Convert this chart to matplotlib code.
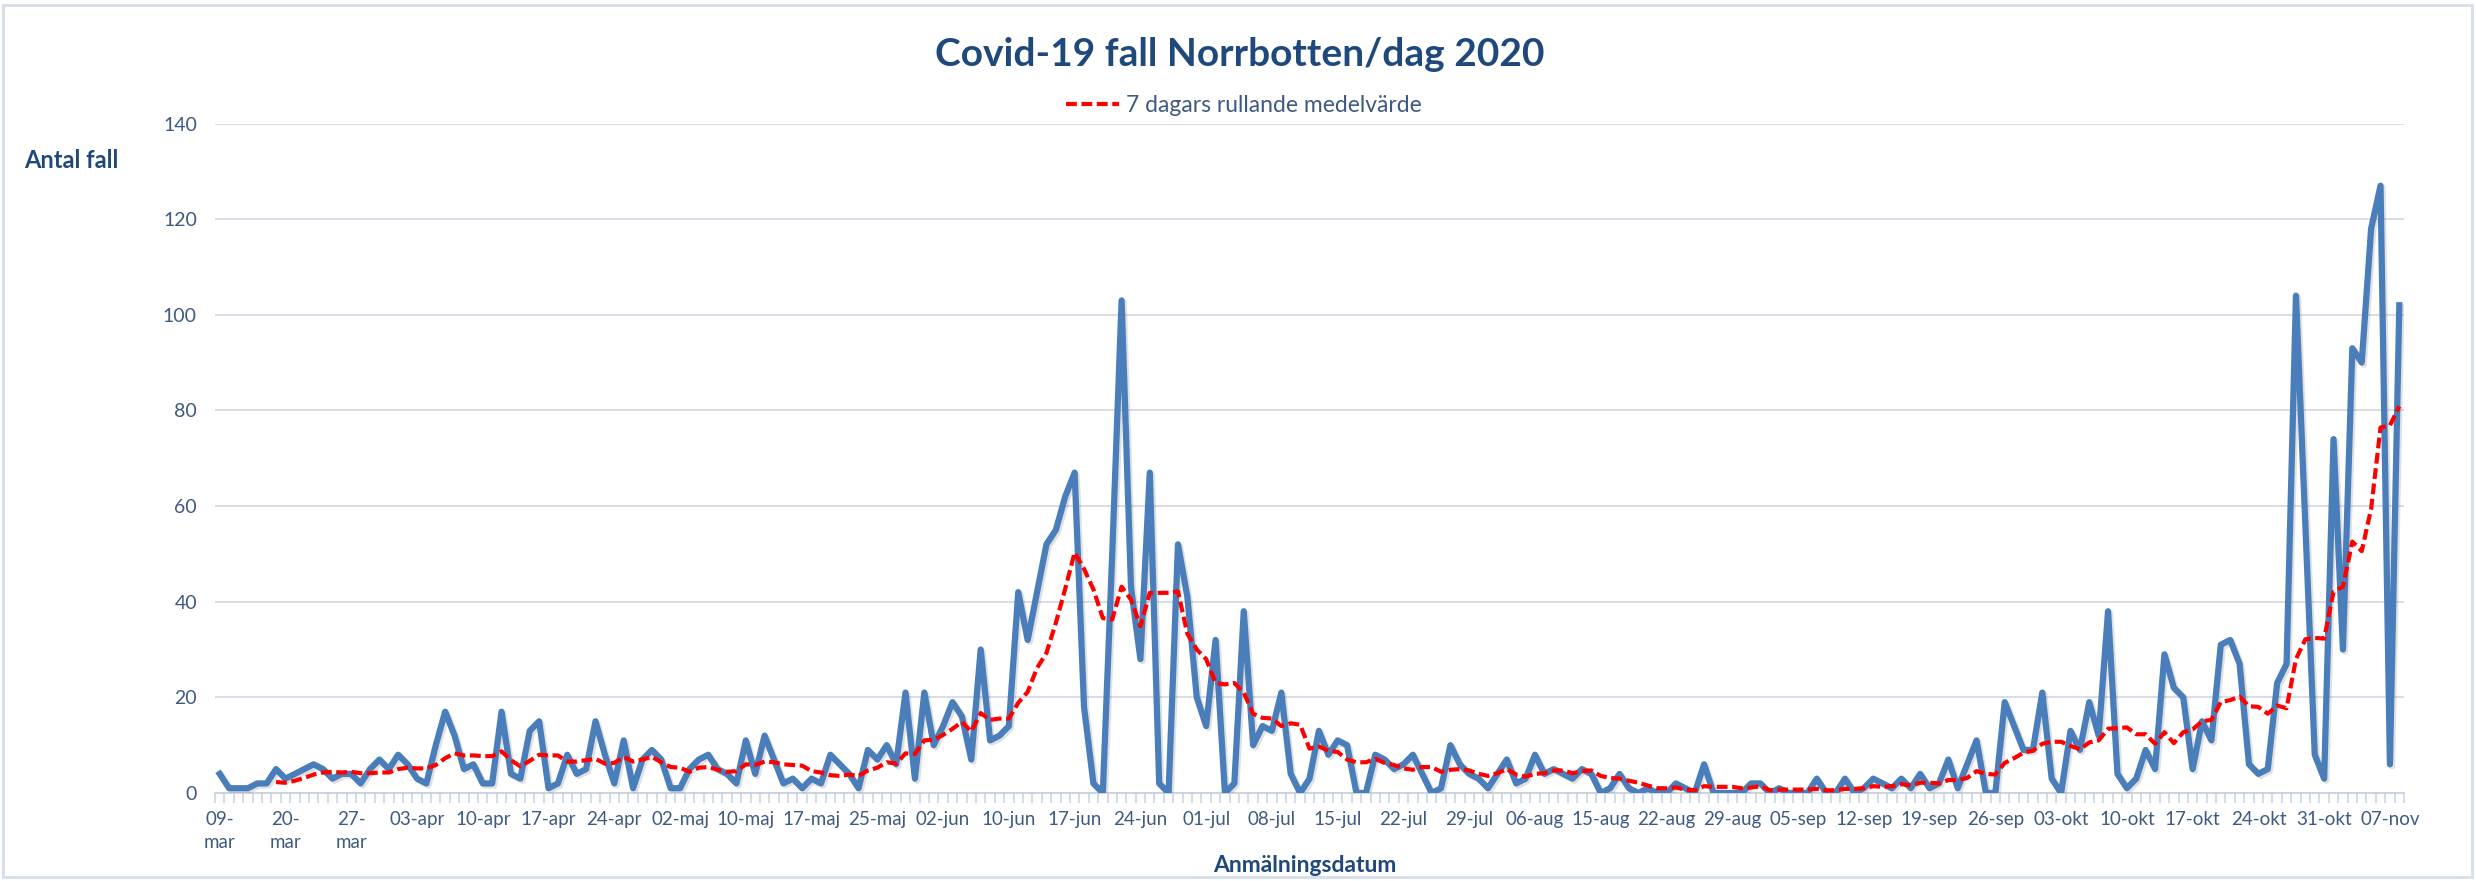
import numpy as np
import pandas as pd
import matplotlib
matplotlib.use("Agg")
import matplotlib.pyplot as plt
from matplotlib.patches import Rectangle
from matplotlib.lines import Line2D
import matplotlib.patheffects as pe

# ---- data ----
tick_labels = ["09-\nmar", "20-\nmar", "27-\nmar", "03-apr", "10-apr", "17-apr", "24-apr",
               "02-maj", "10-maj", "17-maj", "25-maj", "02-jun", "10-jun", "17-jun",
               "24-jun", "01-jul", "08-jul", "15-jul", "22-jul", "29-jul", "06-aug",
               "15-aug", "22-aug", "29-aug", "05-sep", "12-sep", "19-sep", "26-sep",
               "03-okt", "10-okt", "17-okt", "24-okt", "31-okt", "07-nov"]
label_step = 7

cases = [4, 1, 1, 1, 2, 2, 5, 3, 4, 5, 6, 5, 3, 4, 4, 2, 5, 7, 5, 8,
         6, 3, 2, 10, 17, 12, 5, 6, 2, 2, 17, 4, 3, 13, 15, 1, 2, 8, 4, 5,
         15, 8, 2, 11, 1, 7, 9, 7, 1, 1, 5, 7, 8, 5, 4, 2, 11, 4, 12, 7,
         2, 3, 1, 3, 2, 8, 6, 4, 1, 9, 7, 10, 6, 21, 3, 21, 10, 14, 19, 16,
         7, 30, 11, 12, 14, 42, 32, 42, 52, 55, 62, 67, 18, 2, 0, 50, 103, 43, 28, 67,
         2, 0, 52, 41, 20, 14, 32, 0, 2, 38, 10, 14, 13, 21, 4, 0, 3, 13, 8, 11,
         10, 0, 0, 8, 7, 5, 6, 8, 4, 0, 1, 10, 6, 4, 3, 1, 4, 7, 2, 3,
         8, 4, 5, 4, 3, 5, 4, 0, 1, 4, 1, 0, 1, 0, 0, 2, 1, 0, 6, 0,
         0, 0, 0, 2, 2, 0, 1, 0, 0, 0, 3, 0, 0, 3, 0, 1, 3, 2, 1, 3,
         1, 4, 1, 2, 7, 1, 6, 11, 0, 0, 19, 14, 9, 9, 21, 3, 0, 13, 9, 19,
         12, 38, 4, 1, 3, 9, 5, 29, 22, 20, 5, 15, 11, 31, 32, 27, 6, 4, 5, 23,
         27, 104, 56, 8, 3, 74, 30, 93, 90, 118, 127, 6, 102]

series_names = ["Antal fall", "7 dagars rullande medelvärde"]
title = "Covid-19 fall Norrbotten/dag 2020"
xlabel = "Anmälningsdatum"
ylabel = "Antal fall"

# ---- styling ----
TEXT_DARK = "#1F497D"
TICK_COL = "#3E5A80"
GRID_COL = "#D6DEE9"
BLUE = "#4A7EBB"

plt.rcParams["font.family"] = ["Lato", "DejaVu Sans"]

W, H = 2476, 881
fig = plt.figure(figsize=(W / 100, H / 100), dpi=100)
fig.patch.set_facecolor("white")

x0, x1 = 215 / W, 2404 / W
y0, y1 = (H - 793) / H, (H - 123.5) / H
ax = fig.add_axes([x0, y0, x1 - x0, y1 - y0])

xs = np.arange(len(cases))
ma = pd.Series(cases, dtype=float).rolling(7).mean()

ax.plot(xs, cases, color=BLUE, lw=4.5, solid_joinstyle="round", zorder=3,
        path_effects=[pe.SimpleLineShadow(offset=(1.5, -1.5), alpha=0.18, shadow_color="#555555"),
                      pe.Normal()])
ax.plot(xs, ma, color="#FF0000", lw=3.0, linestyle=(0, (2.6, 1.1)), zorder=4)

ax.set_xlim(-0.5, len(cases) - 0.5)
ax.set_ylim(0, 140)
ax.set_yticks(np.arange(0, 141, 20))
ax.grid(axis="y", color=GRID_COL, lw=1.4)
ax.set_axisbelow(True)

for s in ["top", "right", "left"]:
    ax.spines[s].set_visible(False)
ax.spines["bottom"].set_color("#CBD4E1")
ax.spines["bottom"].set_linewidth(1.4)

major = np.arange(0, len(tick_labels) * label_step, label_step)
ax.set_xticks(major)
ax.set_xticklabels(tick_labels, linespacing=1.45)
ax.set_xticks(np.arange(-0.5, len(cases), 1), minor=True)
ax.tick_params(axis="x", which="major", length=0, pad=13, labelsize=13.5, labelcolor=TICK_COL)
ax.tick_params(axis="x", which="minor", length=7, width=1.2, color="#CBD4E1", direction="out")
ax.tick_params(axis="y", length=0, pad=13, labelsize=14, labelcolor=TICK_COL)

fig.text(1240 / W, 1 - 54 / H, title, ha="center", va="center",
         fontsize=28, fontweight="bold", color=TEXT_DARK)
fig.text(24 / W, 1 - 160 / H, ylabel, ha="left", va="center",
         fontsize=17, fontweight="bold", color=TEXT_DARK)
fig.text(1305 / W, 1 - 866 / H, xlabel, ha="center", va="center",
         fontsize=16.5, fontweight="bold", color=TEXT_DARK)

handle = Line2D([0], [0], color="#FF0000", lw=3.0, linestyle=(0, (2.6, 1.1)))
ax.legend([handle], [series_names[1]], loc="center", bbox_to_anchor=(1244 / W, 1 - 106 / H),
          bbox_transform=fig.transFigure, frameon=False, fontsize=16.5,
          handlelength=2.3, handletextpad=0.3, labelcolor=TICK_COL)

fig.patches.append(Rectangle((3 / W, 4 / H), (W - 7) / W, (H - 9) / H, transform=fig.transFigure,
                             fill=False, edgecolor="#D5DEEA", lw=2.0))

fig.savefig("out.png", dpi=100)
